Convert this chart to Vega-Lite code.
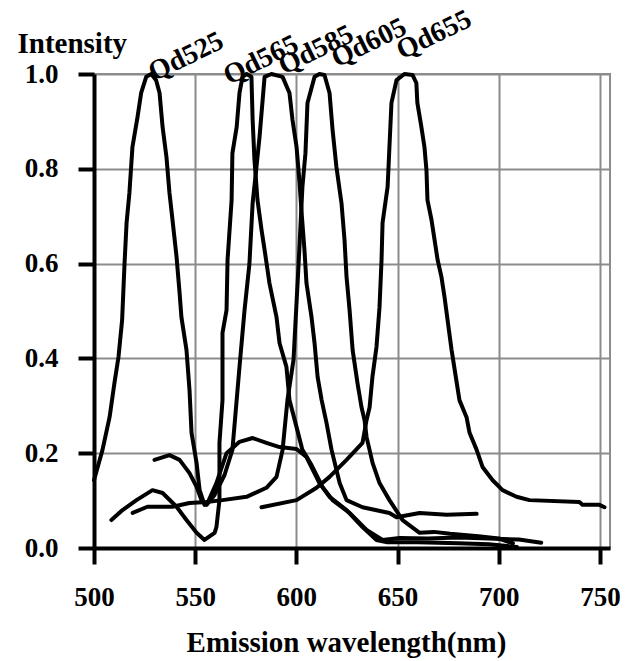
{
 "$schema": "https://vega.github.io/schema/vega-lite/v6.json",
 "width": 516, "height": 474,
 "autosize": {"type": "none"},
 "padding": {"left": 94, "top": 74, "right": 16, "bottom": 113},
 "background": "white",
 "config": {"view": {"stroke": "#8c8c8c", "strokeWidth": 2}, "font": "Liberation Serif", "axis": {"ticks": true, "tickSize": 16, "tickWidth": 4, "tickColor": "black"}},
 "datasets": {
  "spectra": [
   {"series":"Qd525","idx":0,"wl":500.0,"intensity":0.143},
   {"series":"Qd525","idx":1,"wl":504.2,"intensity":0.207},
   {"series":"Qd525","idx":2,"wl":507.7,"intensity":0.276},
   {"series":"Qd525","idx":3,"wl":510.1,"intensity":0.348},
   {"series":"Qd525","idx":4,"wl":512.1,"intensity":0.403},
   {"series":"Qd525","idx":5,"wl":513.9,"intensity":0.481},
   {"series":"Qd525","idx":6,"wl":515.1,"intensity":0.601},
   {"series":"Qd525","idx":7,"wl":516.1,"intensity":0.686},
   {"series":"Qd525","idx":8,"wl":517.5,"intensity":0.749},
   {"series":"Qd525","idx":9,"wl":519.0,"intensity":0.846},
   {"series":"Qd525","idx":10,"wl":521.5,"intensity":0.909},
   {"series":"Qd525","idx":11,"wl":523.3,"intensity":0.960},
   {"series":"Qd525","idx":12,"wl":525.8,"intensity":0.994},
   {"series":"Qd525","idx":13,"wl":528.3,"intensity":1.0},
   {"series":"Qd525","idx":14,"wl":530.7,"intensity":0.987},
   {"series":"Qd525","idx":15,"wl":532.4,"intensity":0.960},
   {"series":"Qd525","idx":16,"wl":533.9,"intensity":0.888},
   {"series":"Qd525","idx":17,"wl":535.8,"intensity":0.825},
   {"series":"Qd525","idx":18,"wl":537.3,"intensity":0.749},
   {"series":"Qd525","idx":19,"wl":538.8,"intensity":0.692},
   {"series":"Qd525","idx":20,"wl":540.8,"intensity":0.614},
   {"series":"Qd525","idx":21,"wl":542.3,"intensity":0.538},
   {"series":"Qd525","idx":22,"wl":543.2,"intensity":0.487},
   {"series":"Qd525","idx":23,"wl":545.7,"intensity":0.418},
   {"series":"Qd525","idx":24,"wl":547.2,"intensity":0.333},
   {"series":"Qd525","idx":25,"wl":548.2,"intensity":0.243},
   {"series":"Qd525","idx":26,"wl":550.7,"intensity":0.179},
   {"series":"Qd525","idx":27,"wl":552.2,"intensity":0.122},
   {"series":"Qd525","idx":28,"wl":554.6,"intensity":0.091},
   {"series":"Qd525","idx":29,"wl":556.1,"intensity":0.095},
   {"series":"Qd525","idx":30,"wl":560.5,"intensity":0.137},
   {"series":"Qd525","idx":31,"wl":565.5,"intensity":0.200},
   {"series":"Qd525","idx":32,"wl":571.9,"intensity":0.224},
   {"series":"Qd525","idx":33,"wl":578.4,"intensity":0.232},
   {"series":"Qd525","idx":34,"wl":585.2,"intensity":0.222},
   {"series":"Qd525","idx":35,"wl":591.7,"intensity":0.213},
   {"series":"Qd525","idx":36,"wl":600.1,"intensity":0.209},
   {"series":"Qd525","idx":37,"wl":605.0,"intensity":0.192},
   {"series":"Qd525","idx":38,"wl":611.4,"intensity":0.137},
   {"series":"Qd525","idx":39,"wl":616.4,"intensity":0.108},
   {"series":"Qd525","idx":40,"wl":624.8,"intensity":0.080},
   {"series":"Qd525","idx":41,"wl":632.7,"intensity":0.044},
   {"series":"Qd525","idx":42,"wl":639.6,"intensity":0.017},
   {"series":"Qd525","idx":43,"wl":645.0,"intensity":0.012},
   {"series":"Qd525","idx":44,"wl":660.0,"intensity":0.012},
   {"series":"Qd525","idx":45,"wl":680.0,"intensity":0.010},
   {"series":"Qd525","idx":46,"wl":695.0,"intensity":0.008},
   {"series":"Qd525","idx":47,"wl":709.0,"intensity":0.002},

   {"series":"Qd565","idx":0,"wl":508.6,"intensity":0.059},
   {"series":"Qd565","idx":1,"wl":514.1,"intensity":0.080},
   {"series":"Qd565","idx":2,"wl":521.0,"intensity":0.101},
   {"series":"Qd565","idx":3,"wl":528.9,"intensity":0.122},
   {"series":"Qd565","idx":4,"wl":533.9,"intensity":0.116},
   {"series":"Qd565","idx":5,"wl":540.8,"intensity":0.087},
   {"series":"Qd565","idx":6,"wl":545.7,"intensity":0.059},
   {"series":"Qd565","idx":7,"wl":550.7,"intensity":0.032},
   {"series":"Qd565","idx":8,"wl":554.6,"intensity":0.017},
   {"series":"Qd565","idx":9,"wl":559.6,"intensity":0.032},
   {"series":"Qd565","idx":10,"wl":560.5,"intensity":0.044},
   {"series":"Qd565","idx":11,"wl":562.0,"intensity":0.101},
   {"series":"Qd565","idx":12,"wl":562.0,"intensity":0.222},
   {"series":"Qd565","idx":13,"wl":563.5,"intensity":0.312},
   {"series":"Qd565","idx":14,"wl":563.5,"intensity":0.454},
   {"series":"Qd565","idx":15,"wl":565.5,"intensity":0.502},
   {"series":"Qd565","idx":16,"wl":566.0,"intensity":0.608},
   {"series":"Qd565","idx":17,"wl":568.0,"intensity":0.734},
   {"series":"Qd565","idx":18,"wl":568.4,"intensity":0.833},
   {"series":"Qd565","idx":19,"wl":570.5,"intensity":0.888},
   {"series":"Qd565","idx":20,"wl":571.9,"intensity":0.960},
   {"series":"Qd565","idx":21,"wl":573.4,"intensity":0.994},
   {"series":"Qd565","idx":22,"wl":575.4,"intensity":1.0},
   {"series":"Qd565","idx":23,"wl":577.8,"intensity":0.994},
   {"series":"Qd565","idx":24,"wl":578.4,"intensity":0.903},
   {"series":"Qd565","idx":25,"wl":579.3,"intensity":0.819},
   {"series":"Qd565","idx":26,"wl":580.8,"intensity":0.734},
   {"series":"Qd565","idx":27,"wl":582.8,"intensity":0.671},
   {"series":"Qd565","idx":28,"wl":584.3,"intensity":0.629},
   {"series":"Qd565","idx":29,"wl":586.7,"intensity":0.559},
   {"series":"Qd565","idx":30,"wl":590.2,"intensity":0.487},
   {"series":"Qd565","idx":31,"wl":591.7,"intensity":0.432},
   {"series":"Qd565","idx":32,"wl":595.1,"intensity":0.382},
   {"series":"Qd565","idx":33,"wl":596.6,"intensity":0.312},
   {"series":"Qd565","idx":34,"wl":600.1,"intensity":0.255},
   {"series":"Qd565","idx":35,"wl":603.0,"intensity":0.207},
   {"series":"Qd565","idx":36,"wl":607.5,"intensity":0.175},
   {"series":"Qd565","idx":37,"wl":612.9,"intensity":0.129},
   {"series":"Qd565","idx":38,"wl":617.9,"intensity":0.101},
   {"series":"Qd565","idx":39,"wl":626.3,"intensity":0.074},
   {"series":"Qd565","idx":40,"wl":634.7,"intensity":0.038},
   {"series":"Qd565","idx":41,"wl":642.6,"intensity":0.017},
   {"series":"Qd565","idx":42,"wl":651.0,"intensity":0.021},
   {"series":"Qd565","idx":43,"wl":665.0,"intensity":0.020},
   {"series":"Qd565","idx":44,"wl":680.0,"intensity":0.022},
   {"series":"Qd565","idx":45,"wl":695.0,"intensity":0.020},
   {"series":"Qd565","idx":46,"wl":710.0,"intensity":0.018},
   {"series":"Qd565","idx":47,"wl":721.0,"intensity":0.011},

   {"series":"Qd585","idx":0,"wl":529.9,"intensity":0.186},
   {"series":"Qd585","idx":1,"wl":537.3,"intensity":0.196},
   {"series":"Qd585","idx":2,"wl":542.3,"intensity":0.186},
   {"series":"Qd585","idx":3,"wl":547.2,"intensity":0.158},
   {"series":"Qd585","idx":4,"wl":550.7,"intensity":0.129},
   {"series":"Qd585","idx":5,"wl":553.1,"intensity":0.101},
   {"series":"Qd585","idx":6,"wl":555.6,"intensity":0.091},
   {"series":"Qd585","idx":7,"wl":559.6,"intensity":0.112},
   {"series":"Qd585","idx":8,"wl":564.5,"intensity":0.154},
   {"series":"Qd585","idx":9,"wl":568.4,"intensity":0.207},
   {"series":"Qd585","idx":10,"wl":571.9,"intensity":0.382},
   {"series":"Qd585","idx":11,"wl":574.4,"intensity":0.502},
   {"series":"Qd585","idx":12,"wl":576.8,"intensity":0.599},
   {"series":"Qd585","idx":13,"wl":578.4,"intensity":0.728},
   {"series":"Qd585","idx":14,"wl":580.3,"intensity":0.804},
   {"series":"Qd585","idx":15,"wl":581.8,"intensity":0.867},
   {"series":"Qd585","idx":16,"wl":584.3,"intensity":0.994},
   {"series":"Qd585","idx":17,"wl":587.7,"intensity":1.0},
   {"series":"Qd585","idx":18,"wl":593.2,"intensity":0.994},
   {"series":"Qd585","idx":19,"wl":596.6,"intensity":0.960},
   {"series":"Qd585","idx":20,"wl":598.1,"intensity":0.903},
   {"series":"Qd585","idx":21,"wl":600.1,"intensity":0.846},
   {"series":"Qd585","idx":22,"wl":601.6,"intensity":0.770},
   {"series":"Qd585","idx":23,"wl":602.5,"intensity":0.713},
   {"series":"Qd585","idx":24,"wl":604.0,"intensity":0.629},
   {"series":"Qd585","idx":25,"wl":605.0,"intensity":0.559},
   {"series":"Qd585","idx":26,"wl":607.5,"intensity":0.487},
   {"series":"Qd585","idx":27,"wl":609.0,"intensity":0.432},
   {"series":"Qd585","idx":28,"wl":610.5,"intensity":0.361},
   {"series":"Qd585","idx":29,"wl":612.5,"intensity":0.312},
   {"series":"Qd585","idx":30,"wl":614.9,"intensity":0.264},
   {"series":"Qd585","idx":31,"wl":617.4,"intensity":0.207},
   {"series":"Qd585","idx":32,"wl":621.4,"intensity":0.137},
   {"series":"Qd585","idx":33,"wl":624.8,"intensity":0.101},
   {"series":"Qd585","idx":34,"wl":632.7,"intensity":0.086},
   {"series":"Qd585","idx":35,"wl":646.0,"intensity":0.074},
   {"series":"Qd585","idx":36,"wl":649.5,"intensity":0.065},
   {"series":"Qd585","idx":37,"wl":660.9,"intensity":0.074},
   {"series":"Qd585","idx":38,"wl":674.3,"intensity":0.070},
   {"series":"Qd585","idx":39,"wl":689.1,"intensity":0.072},

   {"series":"Qd605","idx":0,"wl":519.1,"intensity":0.074},
   {"series":"Qd605","idx":1,"wl":526.4,"intensity":0.087},
   {"series":"Qd605","idx":2,"wl":538.8,"intensity":0.087},
   {"series":"Qd605","idx":3,"wl":547.2,"intensity":0.095},
   {"series":"Qd605","idx":4,"wl":555.6,"intensity":0.097},
   {"series":"Qd605","idx":5,"wl":563.5,"intensity":0.101},
   {"series":"Qd605","idx":6,"wl":575.4,"intensity":0.108},
   {"series":"Qd605","idx":7,"wl":585.2,"intensity":0.127},
   {"series":"Qd605","idx":8,"wl":590.2,"intensity":0.150},
   {"series":"Qd605","idx":9,"wl":593.2,"intensity":0.207},
   {"series":"Qd605","idx":10,"wl":595.6,"intensity":0.312},
   {"series":"Qd605","idx":11,"wl":598.6,"intensity":0.397},
   {"series":"Qd605","idx":12,"wl":601.1,"intensity":0.599},
   {"series":"Qd605","idx":13,"wl":603.0,"intensity":0.762},
   {"series":"Qd605","idx":14,"wl":604.5,"intensity":0.833},
   {"series":"Qd605","idx":15,"wl":605.5,"intensity":0.939},
   {"series":"Qd605","idx":16,"wl":609.0,"intensity":0.994},
   {"series":"Qd605","idx":17,"wl":611.4,"intensity":1.0},
   {"series":"Qd605","idx":18,"wl":613.9,"intensity":0.998},
   {"series":"Qd605","idx":19,"wl":616.4,"intensity":0.960},
   {"series":"Qd605","idx":20,"wl":617.9,"intensity":0.882},
   {"series":"Qd605","idx":21,"wl":619.8,"intensity":0.804},
   {"series":"Qd605","idx":22,"wl":622.3,"intensity":0.728},
   {"series":"Qd605","idx":23,"wl":623.8,"intensity":0.650},
   {"series":"Qd605","idx":24,"wl":624.8,"intensity":0.572},
   {"series":"Qd605","idx":25,"wl":626.3,"intensity":0.502},
   {"series":"Qd605","idx":26,"wl":627.8,"intensity":0.418},
   {"series":"Qd605","idx":27,"wl":630.2,"intensity":0.348},
   {"series":"Qd605","idx":28,"wl":632.2,"intensity":0.297},
   {"series":"Qd605","idx":29,"wl":633.7,"intensity":0.270},
   {"series":"Qd605","idx":30,"wl":634.7,"intensity":0.234},
   {"series":"Qd605","idx":31,"wl":637.7,"intensity":0.179},
   {"series":"Qd605","idx":32,"wl":641.1,"intensity":0.137},
   {"series":"Qd605","idx":33,"wl":646.0,"intensity":0.101},
   {"series":"Qd605","idx":34,"wl":652.5,"intensity":0.059},
   {"series":"Qd605","idx":35,"wl":660.9,"intensity":0.032},
   {"series":"Qd605","idx":36,"wl":668.0,"intensity":0.034},
   {"series":"Qd605","idx":37,"wl":676.0,"intensity":0.030},
   {"series":"Qd605","idx":38,"wl":690.0,"intensity":0.025},
   {"series":"Qd605","idx":39,"wl":700.0,"intensity":0.020},
   {"series":"Qd605","idx":40,"wl":707.0,"intensity":0.010},

   {"series":"Qd655","idx":0,"wl":582.8,"intensity":0.086},
   {"series":"Qd655","idx":1,"wl":600.1,"intensity":0.101},
   {"series":"Qd655","idx":2,"wl":610.0,"intensity":0.127},
   {"series":"Qd655","idx":3,"wl":616.4,"intensity":0.150},
   {"series":"Qd655","idx":4,"wl":624.8,"intensity":0.186},
   {"series":"Qd655","idx":5,"wl":632.7,"intensity":0.222},
   {"series":"Qd655","idx":6,"wl":634.7,"intensity":0.270},
   {"series":"Qd655","idx":7,"wl":636.2,"intensity":0.297},
   {"series":"Qd655","idx":8,"wl":637.6,"intensity":0.361},
   {"series":"Qd655","idx":9,"wl":639.6,"intensity":0.424},
   {"series":"Qd655","idx":10,"wl":641.1,"intensity":0.508},
   {"series":"Qd655","idx":11,"wl":642.1,"intensity":0.608},
   {"series":"Qd655","idx":12,"wl":642.6,"intensity":0.686},
   {"series":"Qd655","idx":13,"wl":645.1,"intensity":0.762},
   {"series":"Qd655","idx":14,"wl":646.0,"intensity":0.846},
   {"series":"Qd655","idx":15,"wl":647.0,"intensity":0.939},
   {"series":"Qd655","idx":16,"wl":649.5,"intensity":0.987},
   {"series":"Qd655","idx":17,"wl":653.4,"intensity":1.0},
   {"series":"Qd655","idx":18,"wl":657.4,"intensity":0.998},
   {"series":"Qd655","idx":19,"wl":659.3,"intensity":0.981},
   {"series":"Qd655","idx":20,"wl":659.8,"intensity":0.939},
   {"series":"Qd655","idx":21,"wl":661.8,"intensity":0.888},
   {"series":"Qd655","idx":22,"wl":663.3,"intensity":0.846},
   {"series":"Qd655","idx":23,"wl":664.3,"intensity":0.797},
   {"series":"Qd655","idx":24,"wl":664.8,"intensity":0.734},
   {"series":"Qd655","idx":25,"wl":666.8,"intensity":0.692},
   {"series":"Qd655","idx":26,"wl":668.3,"intensity":0.650},
   {"series":"Qd655","idx":27,"wl":669.8,"intensity":0.608},
   {"series":"Qd655","idx":28,"wl":671.7,"intensity":0.572},
   {"series":"Qd655","idx":29,"wl":673.2,"intensity":0.530},
   {"series":"Qd655","idx":30,"wl":676.7,"intensity":0.418},
   {"series":"Qd655","idx":31,"wl":680.6,"intensity":0.312},
   {"series":"Qd655","idx":32,"wl":684.1,"intensity":0.276},
   {"series":"Qd655","idx":33,"wl":685.6,"intensity":0.243},
   {"series":"Qd655","idx":34,"wl":689.1,"intensity":0.207},
   {"series":"Qd655","idx":35,"wl":692.0,"intensity":0.171},
   {"series":"Qd655","idx":36,"wl":697.0,"intensity":0.143},
   {"series":"Qd655","idx":37,"wl":701.9,"intensity":0.122},
   {"series":"Qd655","idx":38,"wl":708.8,"intensity":0.108},
   {"series":"Qd655","idx":39,"wl":715.2,"intensity":0.101},
   {"series":"Qd655","idx":40,"wl":739.9,"intensity":0.097},
   {"series":"Qd655","idx":41,"wl":741.4,"intensity":0.091},
   {"series":"Qd655","idx":42,"wl":749.8,"intensity":0.091},
   {"series":"Qd655","idx":43,"wl":752.3,"intensity":0.086}
  ],
  "labels": [
   {"label":"Qd525","wl":529.7,"intensity":0.984},
   {"label":"Qd565","wl":566.7,"intensity":0.977},
   {"label":"Qd585","wl":593.9,"intensity":0.998},
   {"label":"Qd605","wl":620.1,"intensity":1.013},
   {"label":"Qd655","wl":652.2,"intensity":1.030}
  ]
 },
 "layer": [
  {
   "data": {"name": "spectra"},
   "mark": {"type": "line", "color": "black", "strokeWidth": 4, "strokeJoin": "round", "strokeCap": "round"},
   "encoding": {
    "x": {
     "field": "wl", "type": "quantitative",
     "scale": {"domain": [500, 755], "nice": false, "zero": false},
     "axis": {
      "values": [500, 550, 600, 650, 700, 750],
      "title": "Emission wavelength(nm)",
      "grid": true, "gridColor": "#8c8c8c", "gridWidth": 2, "gridOpacity": 1,
      "domainColor": "black", "domainWidth": 4,
      "labelFont": "Liberation Serif", "labelFontWeight": "bold", "labelFontSize": 27, "labelColor": "black",
      "labelPadding": 20, "labelFlush": false, "labelOverlap": false,
      "titleFont": "Liberation Serif", "titleFontWeight": "bold", "titleFontSize": 29, "titleColor": "black",
      "titleX": 252, "titleY": 103, "titleAlign": "center", "titleBaseline": "alphabetic"
     }
    },
    "y": {
     "field": "intensity", "type": "quantitative",
     "scale": {"domain": [0, 1], "nice": false},
     "axis": {
      "values": [0, 0.2, 0.4, 0.6, 0.8, 1.0],
      "format": ".1f",
      "title": "Intensity",
      "grid": true, "gridColor": "#8c8c8c", "gridWidth": 2, "gridOpacity": 1,
      "domainColor": "black", "domainWidth": 4,
      "labelFont": "Liberation Serif", "labelFontWeight": "bold", "labelFontSize": 27, "labelColor": "black",
      "labelPadding": 20, "labelFlush": false, "labelOverlap": false,
      "titleFont": "Liberation Serif", "titleFontWeight": "bold", "titleFontSize": 29, "titleColor": "black",
      "titleAngle": 0, "titleX": -77, "titleY": -22, "titleAlign": "left", "titleBaseline": "alphabetic"
     }
    },
    "detail": {"field": "series"},
    "order": {"field": "idx", "type": "quantitative"}
   }
  },
  {
   "data": {"name": "labels"},
   "mark": {"type": "text", "angle": -26, "align": "left", "baseline": "alphabetic", "font": "Liberation Serif", "fontWeight": "bold", "fontSize": 28, "color": "black"},
   "encoding": {
    "x": {"field": "wl", "type": "quantitative"},
    "y": {"field": "intensity", "type": "quantitative"},
    "text": {"field": "label"}
   }
  }
 ]
}
